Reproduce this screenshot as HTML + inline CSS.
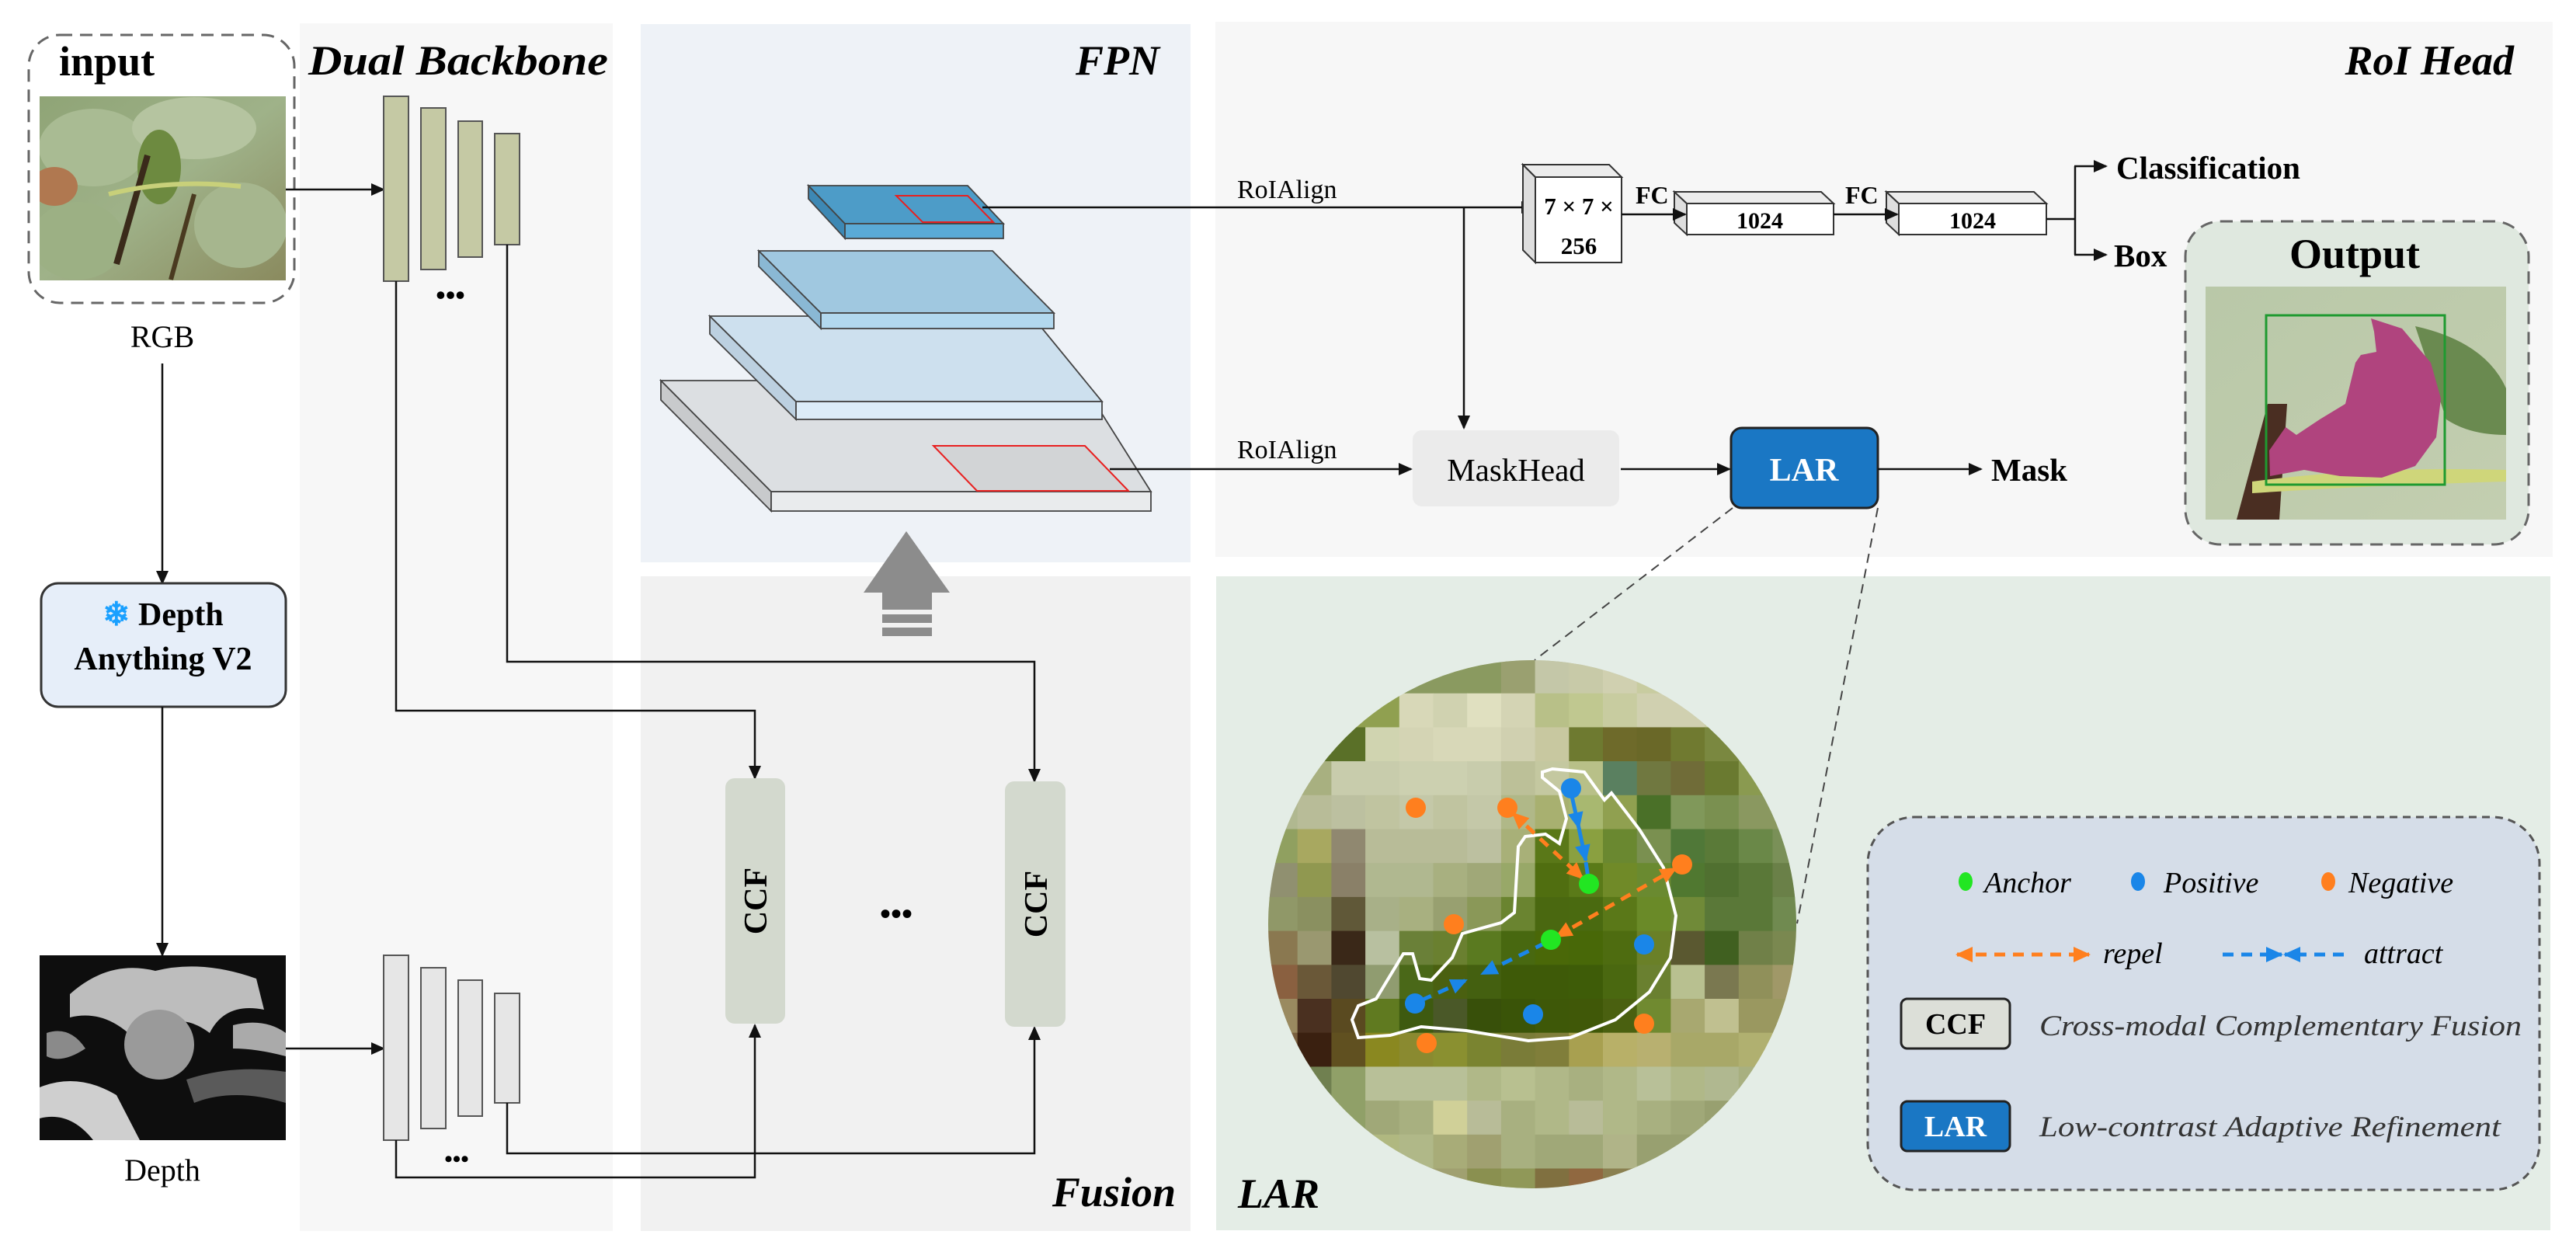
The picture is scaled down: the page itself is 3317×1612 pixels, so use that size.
<!DOCTYPE html>
<html><head><meta charset="utf-8">
<style>
html,body{margin:0;padding:0;background:#fff;}
svg{display:block;font-family:"Liberation Serif","DejaVu Serif",serif;}
svg text{font-family:"Liberation Serif","DejaVu Serif",serif;}
</style></head>
<body>
<svg id="s" width="3317" height="1612" viewBox="0 0 3317 1612" xmlns="http://www.w3.org/2000/svg" font-family="Liberation Serif, serif">
<defs>
<marker id="ar" markerUnits="userSpaceOnUse" markerWidth="18" markerHeight="16" refX="16" refY="8" orient="auto"><path d="M0,0 L18,8 L0,16 Z" fill="#111"/></marker>
<marker id="ao" markerUnits="userSpaceOnUse" markerWidth="22" markerHeight="20" refX="20" refY="10" orient="auto-start-reverse"><path d="M0,0 L22,10 L0,20 Z" fill="#ff7f1e"/></marker>
<marker id="ab" markerUnits="userSpaceOnUse" markerWidth="22" markerHeight="20" refX="20" refY="10" orient="auto"><path d="M0,0 L22,10 L0,20 Z" fill="#1a86e8"/></marker>
<clipPath id="cc"><circle cx="1973" cy="1190" r="340"/></clipPath>
<clipPath id="rc"><rect x="51" y="124" width="317" height="237"/></clipPath>
<linearGradient id="rgbg" x1="0" y1="0" x2="1" y2="1"><stop offset="0" stop-color="#8fa476"/><stop offset="0.5" stop-color="#9fb289"/><stop offset="1" stop-color="#8a8a5e"/></linearGradient>
<linearGradient id="outg" x1="0" y1="0" x2="1" y2="1"><stop offset="0" stop-color="#b9c8a8"/><stop offset="1" stop-color="#c3ceb0"/></linearGradient>
</defs>

<rect x="386" y="30" width="403" height="1555" fill="#f7f7f7"/>
<rect x="825" y="31" width="708" height="693" fill="#eef2f7"/>
<rect x="825" y="742" width="708" height="843" fill="#f1f1f1"/>
<rect x="1565" y="28" width="1722" height="689" fill="#f7f7f7"/>
<rect x="1566" y="742" width="1718" height="842" fill="#e4ede6"/>

<text x="397" y="96" font-size="54" font-style="italic" font-weight="bold" textLength="386" lengthAdjust="spacingAndGlyphs">Dual Backbone</text>
<text x="1493" y="96" font-size="54" font-style="italic" font-weight="bold" text-anchor="end">FPN</text>
<text x="3237" y="96" font-size="54" font-style="italic" font-weight="bold" text-anchor="end">RoI Head</text>
<text x="1514" y="1553" font-size="54" font-style="italic" font-weight="bold" text-anchor="end">Fusion</text>
<text x="1594" y="1555" font-size="54" font-style="italic" font-weight="bold">LAR</text>

<rect x="37" y="45" width="342" height="345" rx="40" fill="#fff" stroke="#666" stroke-width="3" stroke-dasharray="16 10"/>
<text x="76" y="97" font-size="54" font-weight="bold">input</text>
<rect x="51" y="124" width="317" height="237" fill="url(#rgbg)"/>
<g clip-path="url(#rc)">
<ellipse cx="120" cy="190" rx="70" ry="50" fill="#a9bb93"/>
<ellipse cx="250" cy="165" rx="80" ry="40" fill="#b5c4a0"/>
<ellipse cx="205" cy="215" rx="28" ry="48" fill="#6d8a40"/>
<ellipse cx="100" cy="310" rx="60" ry="50" fill="#9cb084"/>
<ellipse cx="310" cy="290" rx="60" ry="55" fill="#a6b68e"/>
<ellipse cx="70" cy="240" rx="30" ry="25" fill="#b07850"/>
<path d="M150 340 L190 200" stroke="#3a2a1a" stroke-width="8"/>
<path d="M220 360 L250 250" stroke="#4a3a20" stroke-width="6"/>
<path d="M140 250 Q220 230 310 240" stroke="#c8d07a" stroke-width="6" fill="none"/>
</g>
<text x="209" y="447" font-size="40" text-anchor="middle">RGB</text>
<line x1="209" y1="468" x2="209" y2="751" stroke="#111" stroke-width="2.5" marker-end="url(#ar)"/>
<line x1="368" y1="244" x2="494" y2="244" stroke="#111" stroke-width="2.5" marker-end="url(#ar)"/>

<rect x="53" y="751" width="315" height="159" rx="22" fill="#e6eef9" stroke="#333" stroke-width="3"/>
<text x="210" y="805" font-size="42" font-weight="bold" text-anchor="middle"><tspan fill="#1aa0ff">❄</tspan> Depth</text>
<text x="210" y="862" font-size="42" font-weight="bold" text-anchor="middle">Anything V2</text>
<line x1="209" y1="910" x2="209" y2="1230" stroke="#111" stroke-width="2.5" marker-end="url(#ar)"/>

<rect x="51" y="1230" width="317" height="238" fill="#0e0e0e"/>
<g fill="#bdbdbd">
<path d="M90 1280 Q140 1235 200 1250 Q260 1235 330 1260 L340 1300 Q290 1290 270 1330 Q230 1300 200 1330 Q175 1360 165 1330 Q130 1300 90 1310 Z"/>
<ellipse cx="205" cy="1345" rx="45" ry="45" fill="#9a9a9a"/>
<path d="M51 1400 Q100 1380 150 1410 L180 1468 L120 1468 Q90 1430 51 1440 Z" fill="#cfcfcf"/>
<path d="M240 1390 Q300 1370 368 1380 L368 1420 Q300 1400 250 1420 Z" fill="#5a5a5a"/>
<path d="M60 1330 Q90 1320 110 1350 Q80 1370 60 1360 Z" fill="#8a8a8a"/>
<path d="M300 1320 Q340 1310 368 1330 L368 1360 Q330 1350 300 1350 Z" fill="#aaaaaa"/>
</g>
<text x="209" y="1520" font-size="40" text-anchor="middle">Depth</text>
<line x1="368" y1="1350" x2="494" y2="1350" stroke="#111" stroke-width="2.5" marker-end="url(#ar)"/>

<g fill="#c5c9a4" stroke="#555" stroke-width="2">
<rect x="494" y="124" width="32" height="238"/>
<rect x="542" y="139" width="32" height="208"/>
<rect x="590" y="156" width="31" height="175"/>
<rect x="637" y="172" width="32" height="143"/>
</g>
<text x="580" y="392" font-size="36" font-weight="bold" text-anchor="middle">•••</text>
<g fill="#e6e6e6" stroke="#555" stroke-width="2">
<rect x="494" y="1230" width="32" height="238"/>
<rect x="542" y="1246" width="32" height="207"/>
<rect x="590" y="1262" width="31" height="175"/>
<rect x="637" y="1279" width="32" height="141"/>
</g>
<text x="588" y="1502" font-size="30" font-weight="bold" text-anchor="middle">•••</text>

<g fill="none" stroke="#111" stroke-width="2.5">
<path d="M510 362 L510 915 L972 915 L972 1002" marker-end="url(#ar)"/>
<path d="M653 315 L653 852 L1332 852 L1332 1006" marker-end="url(#ar)"/>
<path d="M510 1468 L510 1516 L972 1516 L972 1320" marker-end="url(#ar)"/>
<path d="M653 1420 L653 1485 L1332 1485 L1332 1323" marker-end="url(#ar)"/>
</g>

<rect x="934" y="1002" width="77" height="316" rx="12" fill="#d3d9ce"/>
<rect x="1294" y="1006" width="78" height="316" rx="12" fill="#d3d9ce"/>
<text transform="translate(987,1160) rotate(-90)" font-size="42" font-weight="bold" text-anchor="middle">CCF</text>
<text transform="translate(1348,1164) rotate(-90)" font-size="42" font-weight="bold" text-anchor="middle">CCF</text>
<text x="1154" y="1190" font-size="40" font-weight="bold" text-anchor="middle">•••</text>

<g fill="#8c8c8c">
<path d="M1167 684 L1223 763 L1112 763 Z"/>
<rect x="1136" y="763" width="64" height="22"/>
<rect x="1136" y="791" width="64" height="11"/>
<rect x="1136" y="808" width="64" height="11"/>
</g>

<g stroke="#444" stroke-width="1.8">
<path d="M851 490 L993 633 L993 658 L851 515 Z" fill="#c8cacc"/>
<path d="M851 490 L1392 490 L1482 633 L993 633 Z" fill="#dcdfe2"/>
<rect x="993" y="633" width="489" height="25" fill="#e9ebed"/>
<path d="M914 407 L1025 517 L1025 540 L914 430 Z" fill="#bcd0e0"/>
<path d="M914 407 L1329 407 L1419 517 L1025 517 Z" fill="#cde0ee"/>
<rect x="1025" y="517" width="394" height="23" fill="#dcecf8"/>
<path d="M977 323 L1057 403 L1057 423 L977 343 Z" fill="#8ab8d4"/>
<path d="M977 323 L1278 323 L1357 403 L1057 403 Z" fill="#a0c8e0"/>
<rect x="1057" y="403" width="300" height="20" fill="#b2d8ee"/>
<path d="M1041 239 L1088 288 L1088 307 L1041 256 Z" fill="#3d88b4"/>
<path d="M1041 239 L1246 239 L1292 288 L1088 288 Z" fill="#4d9cc8"/>
<rect x="1088" y="288" width="204" height="19" fill="#5aaad6"/>
</g>
<path d="M1154 252 L1246 252 L1279 286 L1188 286 Z" fill="none" stroke="#e82020" stroke-width="2"/>
<path d="M1202 574 L1397 574 L1453 632 L1258 632 Z" fill="#d2d4d6" stroke="#e82020" stroke-width="2"/>

<line x1="1265" y1="267" x2="1975" y2="267" stroke="#111" stroke-width="2.5" marker-end="url(#ar)"/>
<line x1="1429" y1="604" x2="1817" y2="604" stroke="#111" stroke-width="2.5" marker-end="url(#ar)"/>
<line x1="1885" y1="267" x2="1885" y2="551" stroke="#111" stroke-width="2.5" marker-end="url(#ar)"/>
<text x="1593" y="255" font-size="34">RoIAlign</text>
<text x="1593" y="590" font-size="34">RoIAlign</text>

<g stroke="#333" stroke-width="2">
<path d="M1961 212 L1977 228 L1977 338 L1961 322 Z" fill="#dedede"/>
<path d="M1961 212 L2072 212 L2088 228 L1977 228 Z" fill="#ececec"/>
<rect x="1977" y="228" width="111" height="110" fill="#fff"/>
<path d="M2156 247 L2172 262 L2172 302 L2156 287 Z" fill="#dedede"/>
<path d="M2156 247 L2345 247 L2361 262 L2172 262 Z" fill="#ececec"/>
<rect x="2172" y="262" width="189" height="40" fill="#fff"/>
<path d="M2429 247 L2445 262 L2445 302 L2429 287 Z" fill="#dedede"/>
<path d="M2429 247 L2619 247 L2635 262 L2445 262 Z" fill="#ececec"/>
<rect x="2445" y="262" width="190" height="40" fill="#fff"/>
</g>
<text x="2033" y="276" font-size="31" font-weight="bold" text-anchor="middle">7 × 7 ×</text>
<text x="2033" y="327" font-size="31" font-weight="bold" text-anchor="middle">256</text>
<text x="2266" y="294" font-size="30" font-weight="bold" text-anchor="middle">1024</text>
<text x="2540" y="294" font-size="30" font-weight="bold" text-anchor="middle">1024</text>
<text x="2106" y="262" font-size="32" font-weight="bold">FC</text>
<text x="2376" y="262" font-size="32" font-weight="bold">FC</text>
<line x1="2088" y1="276" x2="2170" y2="276" stroke="#111" stroke-width="2.5" marker-end="url(#ar)"/>
<line x1="2361" y1="276" x2="2443" y2="276" stroke="#111" stroke-width="2.5" marker-end="url(#ar)"/>
<path d="M2635 282 L2672 282 M2672 214 L2672 328" stroke="#111" stroke-width="2.5" fill="none"/>
<line x1="2671" y1="214" x2="2712" y2="214" stroke="#111" stroke-width="2.5" marker-end="url(#ar)"/>
<line x1="2671" y1="328" x2="2712" y2="328" stroke="#111" stroke-width="2.5" marker-end="url(#ar)"/>
<text x="2725" y="230" font-size="41" font-weight="bold">Classification</text>
<text x="2722" y="343" font-size="41" font-weight="bold">Box</text>

<rect x="2814" y="285" width="442" height="416" rx="45" fill="#dfe8df" stroke="#666" stroke-width="3" stroke-dasharray="16 10"/>
<text x="3032" y="345" font-size="54" font-weight="bold" text-anchor="middle">Output</text>
<rect x="2840" y="369" width="387" height="300" fill="url(#outg)"/>
<path d="M3110 420 Q3200 440 3227 500 L3227 560 Q3180 560 3150 540 Z" fill="#6a8a50"/>
<path d="M2880 669 L2920 520 L2945 520 L2935 669 Z" fill="#4a2e22"/>
<path d="M2900 620 Q3050 600 3227 605 L3227 620 Q3050 625 2900 635 Z" fill="#cfd67a"/>
<path d="M3053 410 L3093 423 L3130 467 L3143 513 L3137 563 L3110 600 L3067 615 L3013 613 L2967 605 L2923 613 L2922 580 L2943 550 L2957 560 L2987 540 L3020 520 L3033 467 L3040 457 L3060 453 L3057 427 Z" fill="#b0447e"/>
<rect x="2918" y="406" width="230" height="218" fill="none" stroke="#1f9a30" stroke-width="3"/>

<rect x="1819" y="554" width="266" height="98" rx="12" fill="#ebebeb"/>
<text x="1952" y="619" font-size="41" text-anchor="middle">MaskHead</text>
<line x1="2087" y1="604" x2="2227" y2="604" stroke="#111" stroke-width="2.5" marker-end="url(#ar)"/>
<rect x="2229" y="551" width="189" height="103" rx="14" fill="#1a77c4" stroke="#222" stroke-width="3"/>
<text x="2323" y="619" font-size="42" font-weight="bold" fill="#fff" text-anchor="middle">LAR</text>
<line x1="2418" y1="604" x2="2551" y2="604" stroke="#111" stroke-width="2.5" marker-end="url(#ar)"/>
<text x="2564" y="619" font-size="41" font-weight="bold">Mask</text>
<line x1="2231" y1="654" x2="1976" y2="850" stroke="#444" stroke-width="2" stroke-dasharray="12 8"/>
<line x1="2418" y1="654" x2="2314" y2="1189" stroke="#444" stroke-width="2" stroke-dasharray="12 8"/>

<g id="grid" clip-path="url(#cc)"><circle cx="1973" cy="1190" r="340" fill="#a8b080"/></g>
<path d="M1986 994 L1999 990 L2040 994 L2066 1030 L2075 1021 L2111 1068 L2142 1117 L2158 1179 L2151 1233 L2124 1277 L2080 1313 L2022 1336 L1968 1340 L1888 1327 L1830 1322 L1790 1333 L1749 1336 L1741 1313 L1749 1295 L1772 1286 L1807 1228 L1819 1228 L1828 1260 L1843 1262 L1870 1233 L1883 1202 L1933 1188 L1950 1175 L1955 1090 L1964 1077 L1990 1074 L2008 1086 L2017 1054 L2008 1019 L1986 1001 Z" fill="none" stroke="#fff" stroke-width="4"/>
<g stroke-width="5" fill="none">
<line x1="1948" y1="1047" x2="2038" y2="1131" stroke="#ff7f1e" stroke-dasharray="14 10" marker-start="url(#ao)" marker-end="url(#ao)"/>
<line x1="2004" y1="1206" x2="2158" y2="1118" stroke="#ff7f1e" stroke-dasharray="14 10" marker-start="url(#ao)" marker-end="url(#ao)"/>
<line x1="2024" y1="1025" x2="2033" y2="1066" stroke="#1a86e8" marker-end="url(#ab)"/>
<line x1="2033" y1="1066" x2="2042" y2="1108" stroke="#1a86e8" marker-end="url(#ab)"/>
<line x1="2042" y1="1110" x2="2045" y2="1130" stroke="#1a86e8"/>
<line x1="1830" y1="1288" x2="1888" y2="1262" stroke="#1a86e8" stroke-dasharray="14 10" marker-end="url(#ab)"/>
<line x1="1990" y1="1214" x2="1908" y2="1254" stroke="#1a86e8" stroke-dasharray="14 10" marker-end="url(#ab)"/>
</g>
<g>
<circle cx="1823" cy="1040" r="13" fill="#ff7f1e"/>
<circle cx="1941" cy="1040" r="13" fill="#ff7f1e"/>
<circle cx="2166" cy="1113" r="13" fill="#ff7f1e"/>
<circle cx="1872" cy="1190" r="13" fill="#ff7f1e"/>
<circle cx="2117" cy="1318" r="13" fill="#ff7f1e"/>
<circle cx="1837" cy="1343" r="13" fill="#ff7f1e"/>
<circle cx="2023" cy="1015" r="13" fill="#1a86e8"/>
<circle cx="2117" cy="1216" r="13" fill="#1a86e8"/>
<circle cx="1822" cy="1292" r="13" fill="#1a86e8"/>
<circle cx="1974" cy="1306" r="13" fill="#1a86e8"/>
<circle cx="2046" cy="1138" r="13" fill="#22e622"/>
<circle cx="1997" cy="1210" r="13" fill="#22e622"/>
</g>

<rect x="2405" y="1052" width="865" height="480" rx="60" fill="#d5dde8" stroke="#555" stroke-width="3" stroke-dasharray="10 7"/>
<ellipse cx="2531" cy="1135" rx="9" ry="12" fill="#22e622"/>
<text x="2555" y="1149" font-size="38" font-style="italic">Anchor</text>
<ellipse cx="2753" cy="1135" rx="9" ry="12" fill="#1a86e8"/>
<text x="2786" y="1149" font-size="38" font-style="italic">Positive</text>
<ellipse cx="2998" cy="1135" rx="9" ry="12" fill="#ff7f1e"/>
<text x="3024" y="1149" font-size="38" font-style="italic">Negative</text>
<line x1="2520" y1="1229" x2="2690" y2="1229" stroke="#ff7f1e" stroke-width="5" stroke-dasharray="14 10" marker-start="url(#ao)" marker-end="url(#ao)"/>
<text x="2708" y="1240" font-size="38" font-style="italic">repel</text>
<line x1="2862" y1="1229" x2="2938" y2="1229" stroke="#1a86e8" stroke-width="5" stroke-dasharray="14 10" marker-end="url(#ab)"/>
<line x1="3018" y1="1229" x2="2942" y2="1229" stroke="#1a86e8" stroke-width="5" stroke-dasharray="14 10" marker-end="url(#ab)"/>
<text x="3044" y="1240" font-size="38" font-style="italic">attract</text>
<rect x="2448" y="1286" width="140" height="64" rx="8" fill="#dcdfd8" stroke="#222" stroke-width="3"/>
<text x="2518" y="1331" font-size="38" font-weight="bold" text-anchor="middle">CCF</text>
<text x="2626" y="1333" font-size="37" font-style="italic" fill="#333" textLength="621" lengthAdjust="spacingAndGlyphs">Cross-modal Complementary Fusion</text>
<rect x="2448" y="1418" width="140" height="64" rx="8" fill="#1a77c4" stroke="#222" stroke-width="3"/>
<text x="2518" y="1463" font-size="38" font-weight="bold" fill="#fff" text-anchor="middle">LAR</text>
<text x="2626" y="1463" font-size="37" font-style="italic" fill="#333" textLength="594" lengthAdjust="spacingAndGlyphs">Low-contrast Adaptive Refinement</text>
</svg>
<script>
(function(){
var R=[
"8a9a60,8a9a60,8a9a60,8a9a60,8a9a60,8a9a60,8a9a60,9aa070,c4c7a8,c8caa8,d0d0b0,c8cca0,b8c088,b8c088,b8c088,b8c088",
"90a050,90a050,90a050,90a050,d8d8b8,d0d2b0,e0e0c0,d4d4b4,b8c088,c0c890,c8cca0,d0d0b0,d0d0b0,c8cca0,c8cca0,c8cca0",
"5a7028,5a7028,5a7028,d0d4b0,d4d4b4,d8d8b8,d8d8b8,d0d0b0,c8c8a0,6e7a30,6e6a2a,6a6828,707a30,7a8840,7a8840,7a8840",
"a8b080,a8b080,c8ccac,c8ccac,ccd0b0,ccd0b0,c8ccac,bcc098,c4c8a0,b8c088,5a8060,707840,706c38,6a7a30,8a9a50,8a9a50",
"b0b890,b8bc98,bcc0a0,c0c4a0,c4c8a8,c0c4a0,c4c8a8,b0b888,a8b070,a8b870,90a050,4a7028,80985a,7a9050,8a9860,8a9860",
"90a060,a8a860,908870,b8bc98,b8bc98,b8bc98,bcc0a0,a8b078,5a7818,8aa040,6a8830,7a9050,507838,5a7a38,6a8848,7a9058",
"909070,909850,8a8068,b0b890,b0b890,a8b080,a0a878,98a868,506e10,5a7a18,708a28,6a8a30,507830,507030,5a7838,6a8048",
"909868,8a9060,605838,a8b088,a8b080,98a070,8a9858,6a8430,4a6810,4a6a10,5a7818,6a8a28,708a38,5a7838,5a7838,708a50",
"8a7850,9a9870,3a2818,b8c0a0,6a8038,6a8030,5a7a20,486810,4a6808,486808,4e6c10,6a8028,5a5830,406020,708048,7a8850",
"8a6040,6a5838,504830,909c70,4a6818,4a6010,446010,3e5a08,3e5a08,3e5c08,4a6810,6a8030,b8c090,7a7850,90905a,a09868",
"9a8a60,4a3020,5a4a20,607a20,3e5a10,4a5828,38500a,3a5408,3e5808,405808,4a6010,708a30,a8a870,c0c090,9a9860,9a9860",
"7a6040,3a2010,605020,8a8820,8a8a30,8a9030,7a8430,7a7c38,807e3a,a8a050,b8b068,b8b070,a8a868,a8a868,b0b070,b0b070",
"708050,708050,90a068,b8c098,b8c098,b8c098,b0b888,b8c090,b0b888,a8b080,b0b888,b8c098,b0b888,b0b890,a8b080,a8b080",
"90a068,90a068,90a068,a0a878,a8b080,d0d098,b8bc98,a8b080,b0b888,b8bc98,b0b888,a8b080,a0a878,98a070,98a070,98a070",
"b0b880,b0b880,b0b880,b0b880,b0b888,a8ac78,a0a070,a8b080,a0a878,a0a878,b0b488,98a070,98a070,98a070,98a070,98a070",
"a0a070,a0a070,a0a070,a0a070,a0a070,a0a070,8a9050,909858,807040,906840,8a8050,8a8050,8a8050,8a8050,8a8050,8a8050"];
var g=document.getElementById('grid'),ns='http://www.w3.org/2000/svg',s=43.7;
for(var j=0;j<16;j++){var c=R[j].split(',');for(var i=0;i<16;i++){var r=document.createElementNS(ns,'rect');
r.setAttribute('x',(1627+s*i).toFixed(1));r.setAttribute('y',(849+s*j).toFixed(1));
r.setAttribute('width',s+0.6);r.setAttribute('height',s+0.6);r.setAttribute('fill','#'+c[i]);g.appendChild(r);}}
})();
</script>
</body></html>
